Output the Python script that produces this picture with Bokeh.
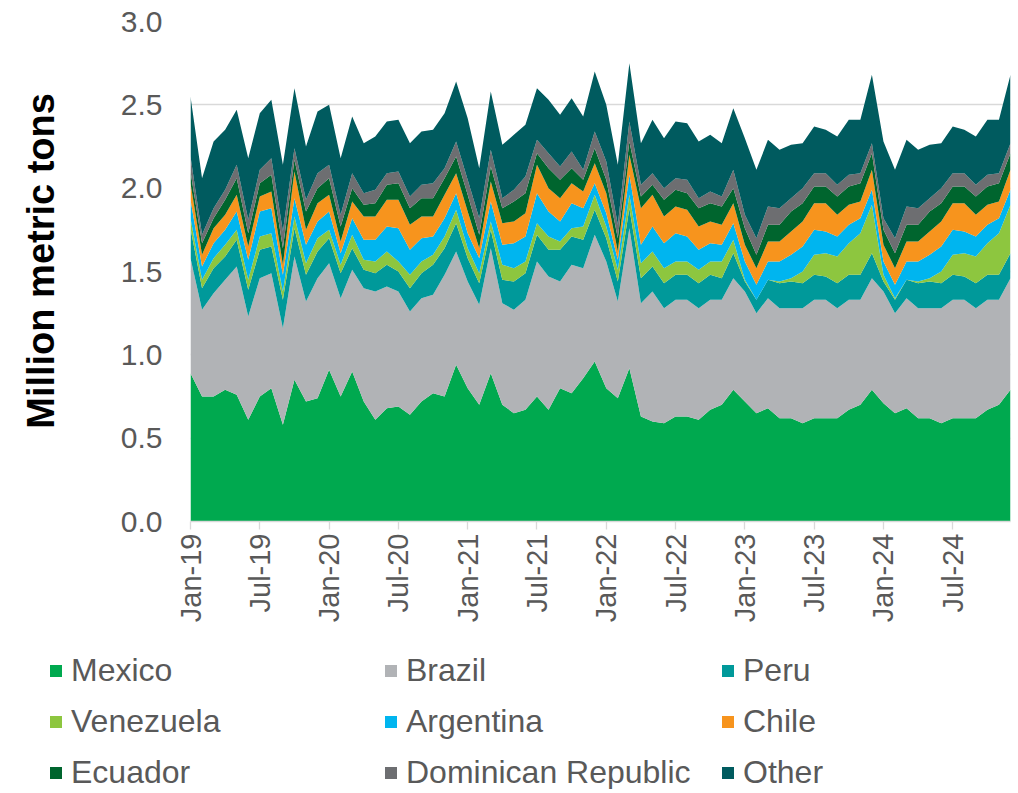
import math
from bokeh.plotting import figure
from bokeh.models import (ColumnDataSource, Range1d, FixedTicker, NumeralTickFormatter,
                          Legend, LegendItem)
from bokeh.embed import file_html
from bokeh.resources import INLINE

years = ["19", "20", "21", "22", "23", "24"]
tick_labels = [f"{m}-{y}" for y in years for m in ("Jan", "Jul")]

countries = ["Mexico", "Brazil", "Peru", "Venezuela", "Argentina", "Chile",
             "Ecuador", "Dominican Republic", "Other"]
colors = ["#00A94F", "#B1B3B6", "#00999A", "#8DC63F", "#00B5EF", "#F7941D",
          "#00652E", "#6D6E71", "#005B5F"]

mexico = [0.89, 0.75, 0.75, 0.79, 0.76, 0.61, 0.75, 0.80, 0.58, 0.85, 0.72, 0.74,
          0.91, 0.75, 0.90, 0.72, 0.61, 0.68, 0.69, 0.64, 0.72, 0.77, 0.75, 0.94,
          0.80, 0.70, 0.89, 0.70, 0.65, 0.67, 0.75, 0.67, 0.80, 0.77, 0.86, 0.96,
          0.80, 0.74, 0.92, 0.63, 0.60, 0.59, 0.63, 0.63, 0.61, 0.67, 0.70, 0.79,
          0.72, 0.65, 0.68, 0.62, 0.62, 0.59, 0.62, 0.62, 0.62, 0.67, 0.70, 0.79,
          0.71, 0.65, 0.68, 0.62, 0.62, 0.59, 0.62, 0.62, 0.62, 0.67, 0.70, 0.79]
brazil = [0.69, 0.52, 0.62, 0.66, 0.77, 0.62, 0.71, 0.69, 0.58, 0.74, 0.60, 0.72,
          0.64, 0.59, 0.61, 0.68, 0.77, 0.73, 0.69, 0.62, 0.62, 0.59, 0.73, 0.68,
          0.64, 0.60, 0.75, 0.61, 0.62, 0.66, 0.81, 0.80, 0.64, 0.77, 0.66, 0.76,
          0.76, 0.58, 0.84, 0.68, 0.78, 0.69, 0.70, 0.70, 0.67, 0.66, 0.63, 0.67,
          0.66, 0.60, 0.66, 0.66, 0.66, 0.69, 0.71, 0.71, 0.66, 0.66, 0.63, 0.67,
          0.67, 0.60, 0.66, 0.66, 0.66, 0.69, 0.71, 0.71, 0.66, 0.66, 0.63, 0.67]
peru = [0.18, 0.13, 0.15, 0.14, 0.16, 0.16, 0.17, 0.16, 0.17, 0.17, 0.16, 0.16,
        0.15, 0.15, 0.13, 0.11, 0.11, 0.13, 0.12, 0.14, 0.15, 0.18, 0.16, 0.17,
        0.14, 0.13, 0.11, 0.14, 0.17, 0.16, 0.16, 0.16, 0.19, 0.17, 0.17, 0.15,
        0.14, 0.12, 0.12, 0.15, 0.15, 0.15, 0.15, 0.15, 0.15, 0.15, 0.13, 0.15,
        0.06, 0.08, 0.11, 0.15, 0.16, 0.15, 0.15, 0.14, 0.15, 0.15, 0.15, 0.15,
        0.06, 0.08, 0.11, 0.15, 0.16, 0.15, 0.15, 0.14, 0.15, 0.15, 0.15, 0.15]
venezuela = [0.06, 0.05, 0.06, 0.07, 0.06, 0.06, 0.08, 0.08, 0.05, 0.07, 0.07, 0.08,
             0.05, 0.05, 0.08, 0.06, 0.07, 0.08, 0.06, 0.08, 0.07, 0.06, 0.07, 0.08,
             0.06, 0.06, 0.05, 0.09, 0.08, 0.07, 0.07, 0.08, 0.05, 0.05, 0.08, 0.09,
             0.07, 0.07, 0.08, 0.09, 0.09, 0.09, 0.08, 0.08, 0.08, 0.08, 0.10, 0.08,
             0.01, 0.00, 0.00, 0.01, 0.02, 0.07, 0.12, 0.14, 0.16, 0.19, 0.25, 0.29,
             0.04, 0.01, 0.00, 0.01, 0.02, 0.07, 0.12, 0.14, 0.16, 0.19, 0.25, 0.29]
argentina = [0.11, 0.08, 0.09, 0.09, 0.11, 0.12, 0.15, 0.15, 0.10, 0.11, 0.11, 0.10,
             0.11, 0.07, 0.10, 0.12, 0.13, 0.15, 0.20, 0.15, 0.14, 0.11, 0.11, 0.10,
             0.09, 0.09, 0.12, 0.12, 0.15, 0.15, 0.18, 0.15, 0.12, 0.15, 0.11, 0.07,
             0.08, 0.06, 0.12, 0.11, 0.15, 0.15, 0.17, 0.15, 0.12, 0.11, 0.10, 0.10,
             0.11, 0.09, 0.11, 0.12, 0.14, 0.15, 0.15, 0.13, 0.12, 0.11, 0.09, 0.09,
             0.08, 0.08, 0.11, 0.12, 0.14, 0.15, 0.15, 0.13, 0.12, 0.11, 0.09, 0.09]
chile = [0.10, 0.07, 0.09, 0.09, 0.10, 0.08, 0.09, 0.10, 0.06, 0.16, 0.09, 0.11,
         0.10, 0.07, 0.10, 0.14, 0.14, 0.16, 0.17, 0.15, 0.13, 0.12, 0.14, 0.12,
         0.13, 0.06, 0.12, 0.13, 0.13, 0.14, 0.17, 0.14, 0.14, 0.12, 0.10, 0.12,
         0.12, 0.05, 0.12, 0.22, 0.19, 0.16, 0.16, 0.16, 0.14, 0.13, 0.12, 0.12,
         0.10, 0.10, 0.12, 0.12, 0.14, 0.15, 0.16, 0.17, 0.13, 0.12, 0.10, 0.12,
         0.10, 0.10, 0.12, 0.12, 0.14, 0.15, 0.16, 0.17, 0.13, 0.12, 0.10, 0.12]
ecuador = [0.07, 0.07, 0.06, 0.09, 0.10, 0.08, 0.08, 0.10, 0.10, 0.07, 0.11, 0.09,
           0.10, 0.09, 0.08, 0.07, 0.08, 0.09, 0.10, 0.10, 0.11, 0.11, 0.10, 0.10,
           0.10, 0.08, 0.09, 0.09, 0.12, 0.12, 0.07, 0.12, 0.11, 0.09, 0.07, 0.09,
           0.08, 0.08, 0.08, 0.07, 0.06, 0.10, 0.10, 0.10, 0.11, 0.11, 0.11, 0.09,
           0.10, 0.08, 0.10, 0.10, 0.12, 0.11, 0.10, 0.10, 0.11, 0.11, 0.11, 0.10,
           0.09, 0.09, 0.10, 0.10, 0.12, 0.11, 0.10, 0.10, 0.11, 0.11, 0.11, 0.10]
dominican = [0.09, 0.05, 0.06, 0.06, 0.08, 0.08, 0.08, 0.10, 0.10, 0.07, 0.07, 0.09,
             0.08, 0.07, 0.09, 0.07, 0.08, 0.07, 0.07, 0.07, 0.08, 0.09, 0.06, 0.09,
             0.09, 0.10, 0.10, 0.06, 0.07, 0.10, 0.08, 0.09, 0.08, 0.10, 0.06, 0.10,
             0.11, 0.08, 0.12, 0.07, 0.07, 0.07, 0.07, 0.08, 0.06, 0.07, 0.06, 0.11,
             0.08, 0.10, 0.11, 0.10, 0.08, 0.09, 0.08, 0.08, 0.07, 0.07, 0.06, 0.06,
             0.07, 0.09, 0.11, 0.10, 0.08, 0.09, 0.08, 0.08, 0.07, 0.07, 0.06, 0.06]
other = [0.36, 0.34, 0.40, 0.36, 0.33, 0.37, 0.34, 0.35, 0.40, 0.36, 0.32, 0.37,
         0.36, 0.34, 0.34, 0.30, 0.32, 0.31, 0.31, 0.32, 0.32, 0.32, 0.33, 0.36,
         0.37, 0.30, 0.35, 0.32, 0.33, 0.31, 0.31, 0.32, 0.31, 0.32, 0.32, 0.36,
         0.34, 0.36, 0.35, 0.25, 0.32, 0.30, 0.34, 0.34, 0.34, 0.34, 0.32, 0.37,
         0.46, 0.41, 0.40, 0.35, 0.32, 0.27, 0.28, 0.26, 0.29, 0.33, 0.32, 0.41,
         0.46, 0.41, 0.40, 0.35, 0.32, 0.27, 0.28, 0.26, 0.29, 0.33, 0.32, 0.41]

series = [mexico, brazil, peru, venezuela, argentina, chile, ecuador, dominican, other]
data = {"x": list(range(len(mexico)))}
for name, vals in zip(countries, series):
    data[name] = vals
source = ColumnDataSource(data)

FONT = "Liberation Sans"
TXT = "#595959"

# ---------------- main chart ----------------
p = figure(width=1014, height=631, output_backend="svg", toolbar_location=None,
           x_range=Range1d(0, len(mexico) - 1), y_range=Range1d(0, 3.0),
           min_border_left=190, min_border_right=4, min_border_top=21,
           min_border_bottom=110)
p.outline_line_color = None
p.background_fill_color = "white"
p.border_fill_color = "white"

p.varea_stack(stackers=countries, x="x", color=colors, source=source)

p.xgrid.grid_line_color = None
p.ygrid.grid_line_color = "#D9D9D9"
p.ygrid.grid_line_width = 1.3
p.ygrid.ticker = FixedTicker(ticks=[0, 0.5, 1.0, 1.5, 2.0, 2.5, 3.0])

ya = p.yaxis[0]
ya.ticker = FixedTicker(ticks=[0, 0.5, 1.0, 1.5, 2.0, 2.5, 3.0])
ya.formatter = NumeralTickFormatter(format="0.0")
ya.axis_line_color = None
ya.major_tick_line_color = None
ya.minor_tick_line_color = None
ya.major_label_text_font = FONT
ya.major_label_text_font_size = "30px"
ya.major_label_text_color = TXT
ya.major_label_standoff = 22
ya.axis_label = "\u00a0\u00a0Million metric tons"
ya.axis_label_text_font = FONT
ya.axis_label_text_font_size = "38px"
ya.axis_label_text_font_style = "bold"
ya.axis_label_text_color = "black"
ya.axis_label_standoff = 56

xa = p.xaxis[0]
xticks = list(range(0, len(mexico), 6))
xa.ticker = FixedTicker(ticks=xticks)
xa.major_label_overrides = {t: lab for t, lab in zip(xticks, tick_labels)}
xa.major_label_orientation = math.pi / 2
xa.axis_line_color = "#D9D9D9"
xa.axis_line_width = 1.3
xa.major_tick_line_color = "#D9D9D9"
xa.major_tick_line_width = 1.3
xa.major_tick_in = 0
xa.major_tick_out = 8
xa.minor_tick_line_color = None
xa.major_label_text_font = FONT
xa.major_label_text_font_size = "29px"
xa.major_label_text_color = TXT
xa.major_label_standoff = 4

# ---------------- legend strip (separate root, frame covers whole canvas) ----
LH = 158
q = figure(width=1014, height=LH, output_backend="svg", toolbar_location=None,
           x_range=Range1d(0, 1014), y_range=Range1d(0, LH),
           min_border=0, x_axis_type=None, y_axis_type=None)
q.outline_line_color = None
q.xgrid.grid_line_color = None
q.ygrid.grid_line_color = None

swatches = [q.varea(x=[0, 0], y1=[0, 0], y2=[0, 0], color=c) for c in colors]

cols = [[0, 3, 6], [1, 4, 7], [2, 5, 8]]
col_x = [48, 383, 720]
for cx, idxs in zip(col_x, cols):
    items = [LegendItem(label=countries[i], renderers=[swatches[i]]) for i in idxs]
    lg = Legend(items=items, location=(cx, -2), orientation="vertical",
                glyph_width=15, glyph_height=15, label_standoff=8, spacing=14,
                padding=0, margin=0, border_line_color=None,
                background_fill_alpha=0, label_text_font=FONT,
                label_text_font_size="32px", label_text_color=TXT)
    q.add_layout(lg, "center")

open("out.html", "w").write(file_html([p, q], INLINE))
